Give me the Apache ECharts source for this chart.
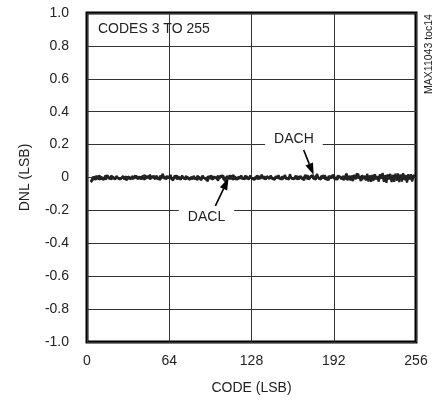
<!DOCTYPE html>
<html>
<head>
<meta charset="utf-8">
<script src="https://cdn.jsdelivr.net/npm/echarts@6/dist/echarts.min.js"></script>
<style>
html,body{margin:0;padding:0;background:#fff;}
#c{width:437px;height:403px;}
</style>
</head>
<body>
<div id="c"></div>
<script>
// Codes 3..255
var codeStart = 3;
var xTicks = [0, 64, 128, 192, 256];
var yTicks = [-1.0, -0.8, -0.6, -0.4, -0.2, 0, 0.2, 0.4, 0.6, 0.8, 1.0];

var dnlDACL = [
-0.030,-0.020,-0.008,0.004,-0.012,0.006,-0.004,0.010,-0.008,0.002,-0.014,0.008,-0.002,0.012,-0.006,0.004,-0.010,0.006,0.000,-0.008,
0.010,-0.004,0.006,-0.012,0.002,0.008,-0.006,0.004,-0.016,0.006,0.012,-0.004,0.002,-0.008,0.010,-0.002,0.006,-0.010,0.004,0.014,
-0.006,0.002,-0.012,0.008,0.004,-0.004,0.018,-0.008,0.006,0.000,-0.010,0.012,-0.002,0.004,-0.014,0.008,0.022,-0.006,0.004,-0.008,
0.006,0.012,-0.004,0.002,-0.018,0.008,-0.002,0.010,-0.006,0.004,-0.012,0.006,0.002,-0.008,0.010,-0.004,0.006,-0.014,0.004,0.008,
-0.006,0.002,-0.010,0.012,-0.004,0.006,-0.016,0.004,0.008,-0.008,0.002,-0.022,0.006,-0.004,0.010,-0.012,0.004,0.008,-0.006,-0.020,
0.006,-0.004,0.012,-0.008,0.004,-0.026,0.008,0.002,-0.010,0.006,-0.004,0.014,-0.008,0.004,-0.012,0.006,0.010,-0.006,0.002,-0.008,
0.012,-0.004,0.006,-0.010,0.004,0.008,-0.006,0.002,-0.012,0.010,-0.002,0.006,-0.008,0.014,-0.004,0.004,-0.010,0.008,0.002,-0.006,
0.010,-0.008,0.004,-0.014,0.006,0.012,-0.004,0.002,-0.010,0.008,-0.006,0.016,-0.002,0.004,-0.012,0.006,0.010,-0.008,0.004,-0.004,
0.008,-0.010,0.006,0.012,-0.006,0.002,-0.016,0.008,-0.004,0.010,-0.008,0.004,0.014,-0.006,0.002,-0.012,0.008,0.004,-0.010,0.006,
-0.004,0.012,-0.008,0.004,-0.014,0.008,0.002,-0.006,0.016,-0.004,0.006,-0.012,0.010,-0.002,0.004,-0.010,0.008,0.018,-0.006,0.002,
-0.014,0.010,-0.004,0.006,-0.020,0.012,-0.008,0.004,0.022,-0.006,0.008,-0.016,0.004,0.014,-0.010,0.006,-0.024,0.012,-0.004,0.008,
-0.018,0.016,-0.008,0.006,-0.022,0.020,-0.006,0.010,-0.026,0.014,-0.004,0.018,-0.012,0.008,-0.028,0.016,-0.006,0.012,-0.020,0.024,
-0.010,0.008,-0.024,0.018,-0.006,0.014,-0.030,0.012,-0.008,0.020,-0.016,0.010,-0.004
];

var dnlDACH = [
-0.024,-0.012,0.006,-0.008,0.010,-0.004,0.008,-0.012,0.004,0.014,-0.006,0.002,-0.010,0.008,0.004,-0.006,0.012,-0.004,0.006,-0.010,
0.004,0.012,-0.008,0.002,-0.004,0.010,-0.012,0.006,0.016,-0.004,0.002,-0.010,0.008,0.004,-0.006,0.012,-0.008,0.002,0.006,-0.012,
0.008,-0.004,0.014,-0.006,0.002,0.010,-0.012,0.004,-0.002,0.008,0.020,-0.006,0.004,-0.010,0.012,-0.004,0.002,0.006,-0.008,0.010,
-0.006,0.004,0.016,-0.008,0.002,-0.004,0.010,-0.012,0.006,0.002,-0.006,0.012,-0.004,0.008,-0.010,0.004,0.014,-0.006,0.002,-0.008,
0.010,-0.004,0.006,-0.014,0.004,0.008,-0.006,0.012,-0.002,0.004,-0.010,0.006,0.016,-0.004,0.002,-0.012,0.008,-0.006,0.004,0.010,
-0.008,0.006,-0.004,0.012,-0.010,0.002,0.008,-0.006,0.014,-0.004,0.004,-0.012,0.006,0.010,-0.008,0.002,-0.004,0.012,-0.006,0.004,
-0.010,0.008,0.002,-0.006,0.012,-0.004,0.006,-0.014,0.004,0.010,-0.008,0.002,-0.004,0.018,-0.006,0.008,-0.012,0.004,0.006,-0.008,
0.012,-0.004,0.002,-0.010,0.008,-0.006,0.014,-0.002,0.004,-0.012,0.006,0.010,-0.008,0.004,-0.004,0.020,-0.006,0.002,-0.010,0.008,
-0.004,0.006,-0.012,0.010,0.004,-0.008,0.002,0.016,-0.006,0.004,-0.010,0.008,-0.004,0.012,-0.008,0.006,0.022,-0.004,0.002,-0.012,
0.008,-0.006,0.014,-0.002,0.004,-0.016,0.010,-0.004,0.006,0.018,-0.008,0.002,-0.012,0.008,0.020,-0.006,0.004,-0.014,0.010,0.024,
-0.008,0.006,-0.018,0.012,-0.004,0.016,-0.010,0.026,-0.006,0.008,-0.022,0.014,-0.004,0.010,-0.018,0.022,-0.008,0.006,-0.026,0.016,
-0.006,0.020,-0.012,0.008,-0.024,0.018,-0.004,0.028,-0.010,0.012,-0.032,0.016,-0.006,0.022,-0.014,0.010,-0.026,0.024,-0.008,0.014,
-0.028,0.018,-0.006,0.026,-0.016,0.010,-0.022,0.020,-0.012,0.008,-0.024,0.016,0.004
];

// Annotation anchors in data coordinates: [x, y]
var arrowDACH = {tail: [168.6, 0.167], tip: [176.4, 0.015]};
var arrowDACL = {tail: [99.9, -0.173], tip: [110.2, -0.003]};

function toPairs(arr) {
  return arr.map(function (v, i) { return [codeStart + i, v]; });
}

var FONT = '"Liberation Sans Narrow", "Arial Narrow", "Liberation Sans", Arial, sans-serif';
var FS = 14;
var chart = echarts.init(document.getElementById('c'), null, {renderer: 'canvas'});

var option = {
  animation: false,
  backgroundColor: '#fff',
  grid: {left: 87, right: 21, top: 13, bottom: 61, show: true, borderWidth: 3, borderColor: '#000', backgroundColor: 'transparent'},
  xAxis: {
    type: 'value', min: 0, max: 256, interval: 64,
    name: 'CODE (LSB)', nameLocation: 'middle', nameGap: 39,
    nameTextStyle: {fontFamily: FONT, fontSize: FS, color: '#222'},
    axisLine: {show: false}, axisTick: {show: false},
    axisLabel: {fontFamily: FONT, fontSize: FS, color: '#222', margin: 12},
    splitLine: {show: true, lineStyle: {color: '#333', width: 1}}
  },
  yAxis: {
    type: 'value', min: -1, max: 1, interval: 0.2,
    name: 'DNL (LSB)', nameLocation: 'middle', nameGap: 55,
    nameTextStyle: {fontFamily: FONT, fontSize: FS, color: '#222'},
    axisLine: {show: false}, axisTick: {show: false},
    axisLabel: {fontFamily: FONT, fontSize: FS, color: '#222', margin: 18,
      formatter: function (v) { var r = Math.round(v * 10) / 10; return r === 0 ? '0' : r.toFixed(1); }},
    splitLine: {show: true, lineStyle: {color: '#333', width: 1}}
  },
  series: [
    {name: 'DACL', type: 'line', data: toPairs(dnlDACL), showSymbol: false,
      lineStyle: {color: '#222', width: 2.2}, z: 3},
    {name: 'DACH', type: 'line', data: toPairs(dnlDACH), showSymbol: false,
      lineStyle: {color: '#222', width: 2.2}, z: 3}
  ]
};
chart.setOption(option);

function px(pt) { return chart.convertToPixel({gridIndex: 0}, pt); }
function arrowGraphics(a) {
  var t = px(a.tail), h = px(a.tip);
  var dx = h[0] - t[0], dy = h[1] - t[1];
  var L = Math.sqrt(dx * dx + dy * dy);
  var ux = dx / L, uy = dy / L;
  var headLen = 12, headHalf = 4;
  var bx = h[0] - ux * headLen, by = h[1] - uy * headLen;
  return [
    {type: 'line', z: 11, shape: {x1: t[0], y1: t[1], x2: bx, y2: by}, style: {stroke: '#000', lineWidth: 1.6}},
    {type: 'polygon', z: 11, shape: {points: [[h[0], h[1]], [bx - uy * headHalf, by + ux * headHalf], [bx + uy * headHalf, by - ux * headHalf]]},
      style: {fill: '#000'}}
  ];
}
var pH = px([161, 0.2]);
var pL = px([93, -0.2]);
var pC = px([4, 0.9]);
var g = [
  {type: 'text', x: pH[0], y: pH[1] - 5, z: 10,
    style: {text: 'DACH', fontFamily: FONT, fontSize: FS, fill: '#222', align: 'center', verticalAlign: 'middle',
      backgroundColor: '#fff', padding: [2, 9, 2, 9]}},
  {type: 'text', x: pL[0], y: pL[1] + 7, z: 10,
    style: {text: 'DACL', fontFamily: FONT, fontSize: FS, fill: '#222', align: 'center', verticalAlign: 'middle',
      backgroundColor: '#fff', padding: [2, 9, 2, 9]}},
  {type: 'text', x: 98, y: pC[1], z: 10,
    style: {text: 'CODES 3 TO 255', fontFamily: FONT, fontSize: FS, fill: '#222', align: 'left', verticalAlign: 'middle'}},
  {type: 'text', x: 429, y: 54, rotation: Math.PI / 2, z: 10,
    style: {text: 'MAX11043 toc14', fontFamily: FONT, fontSize: 10.5, fill: '#222', align: 'center', verticalAlign: 'middle'}}
].concat(arrowGraphics(arrowDACH), arrowGraphics(arrowDACL));
chart.setOption({graphic: g});
</script>
</body>
</html>
